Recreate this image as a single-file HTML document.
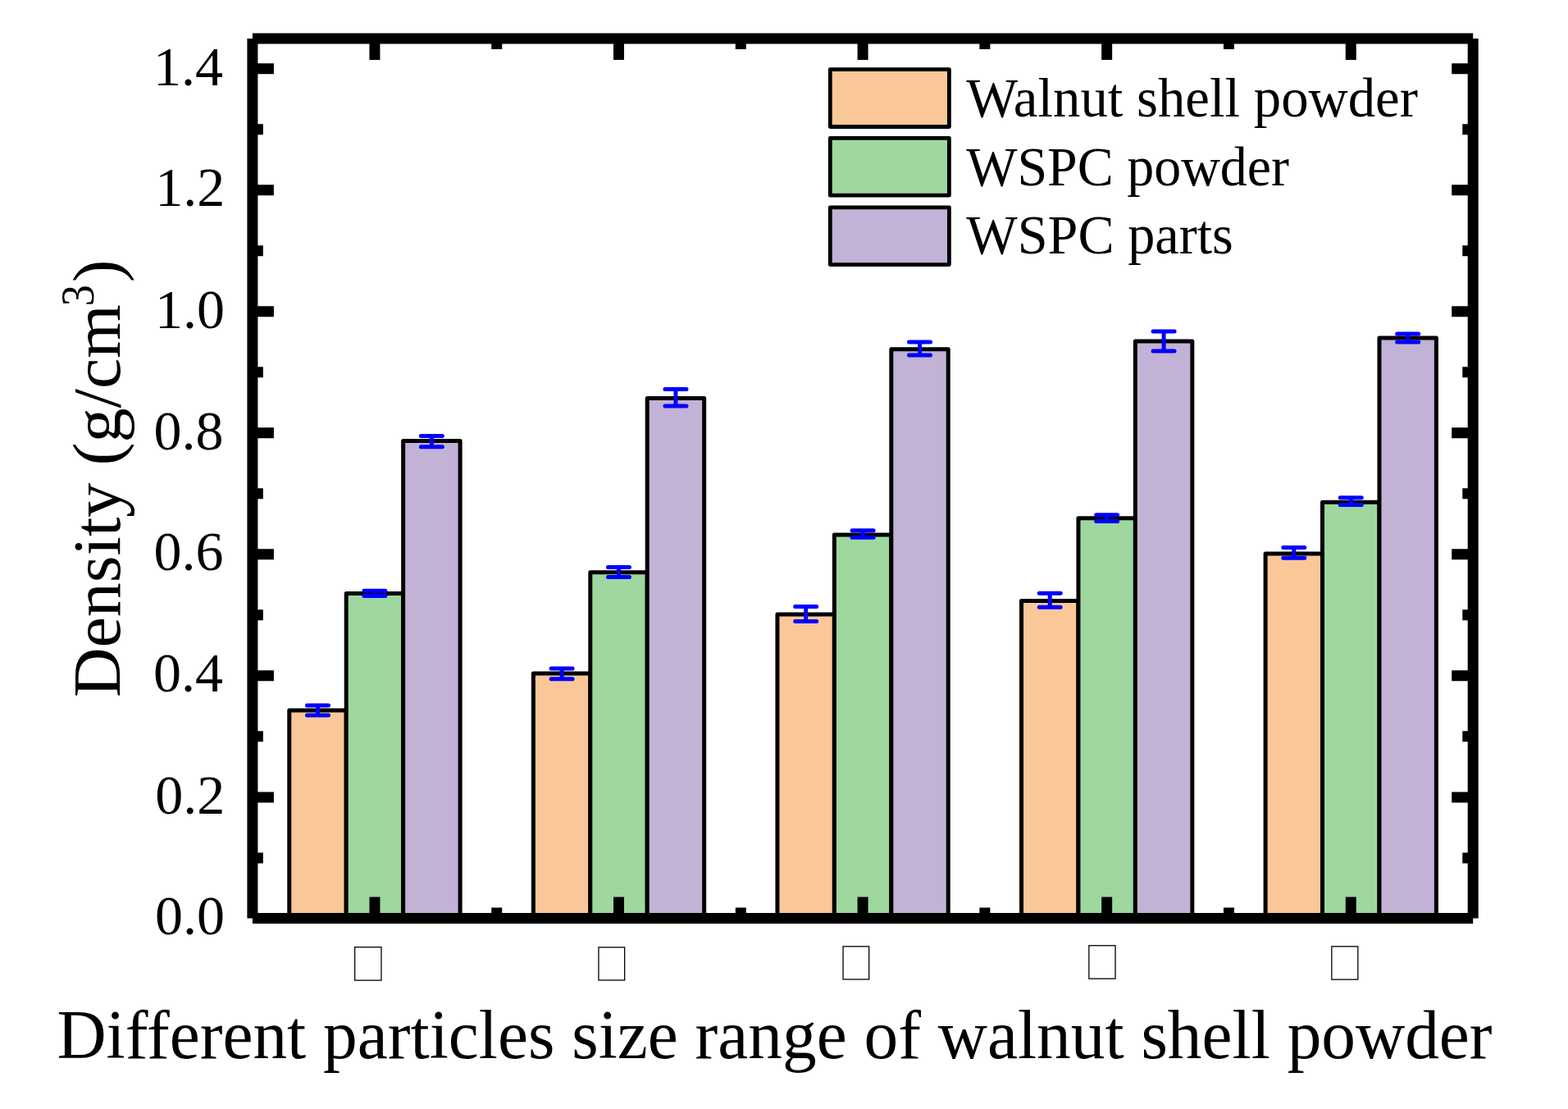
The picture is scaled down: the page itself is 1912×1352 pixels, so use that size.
<!DOCTYPE html><html><head><meta charset="utf-8"><title>Density chart</title><style>html,body{margin:0;padding:0;background:#fff}svg{display:block}text{font-family:"Liberation Serif","Times New Roman",serif;fill:#000}</style></head><body>
<svg width="1912" height="1352" viewBox="0 0 1912 1352">
<rect width="1912" height="1352" fill="#fff"/>
<g stroke="#000" stroke-width="5.0" stroke-linejoin="round">
<rect x="352.78" y="866.00" width="69.44" height="256.00" fill="#FAC898"/>
<rect x="422.21" y="723.50" width="69.44" height="398.50" fill="#9ED89E"/>
<rect x="491.65" y="537.60" width="69.44" height="584.40" fill="#C2B2D6"/>
<rect x="650.36" y="821.10" width="69.44" height="300.90" fill="#FAC898"/>
<rect x="719.79" y="697.80" width="69.44" height="424.20" fill="#9ED89E"/>
<rect x="789.23" y="485.40" width="69.44" height="636.60" fill="#C2B2D6"/>
<rect x="947.94" y="748.90" width="69.44" height="373.10" fill="#FAC898"/>
<rect x="1017.37" y="651.90" width="69.44" height="470.10" fill="#9ED89E"/>
<rect x="1086.81" y="425.70" width="69.44" height="696.30" fill="#C2B2D6"/>
<rect x="1245.52" y="732.50" width="69.44" height="389.50" fill="#FAC898"/>
<rect x="1314.95" y="631.80" width="69.44" height="490.20" fill="#9ED89E"/>
<rect x="1384.39" y="416.00" width="69.44" height="706.00" fill="#C2B2D6"/>
<rect x="1543.10" y="675.10" width="69.44" height="446.90" fill="#FAC898"/>
<rect x="1612.53" y="612.20" width="69.44" height="509.80" fill="#9ED89E"/>
<rect x="1681.97" y="412.00" width="69.44" height="710.00" fill="#C2B2D6"/>
</g>
<g stroke="#0000FF" stroke-width="5" stroke-linecap="round" fill="none">
<path d="M374.49 859.90H400.49M374.49 872.10H400.49M387.49 859.90V872.10"/>
<path d="M443.93 720.20H469.93M443.93 726.40H469.93M456.93 720.20V726.40"/>
<path d="M513.37 531.60H539.37M513.37 544.70H539.37M526.37 531.60V544.70"/>
<path d="M672.07 815.00H698.07M672.07 827.80H698.07M685.07 815.00V827.80"/>
<path d="M741.51 691.60H767.51M741.51 703.40H767.51M754.51 691.60V703.40"/>
<path d="M810.95 474.60H836.95M810.95 494.90H836.95M823.95 474.60V494.90"/>
<path d="M969.65 739.50H995.65M969.65 757.50H995.65M982.65 739.50V757.50"/>
<path d="M1039.09 646.80H1065.09M1039.09 655.20H1065.09M1052.09 646.80V655.20"/>
<path d="M1108.53 416.90H1134.53M1108.53 432.90H1134.53M1121.53 416.90V432.90"/>
<path d="M1267.23 723.30H1293.23M1267.23 740.20H1293.23M1280.23 723.30V740.20"/>
<path d="M1336.67 627.80H1362.67M1336.67 635.60H1362.67M1349.67 627.80V635.60"/>
<path d="M1406.11 404.00H1432.11M1406.11 428.06H1432.11M1419.11 404.00V428.06"/>
<path d="M1564.81 667.40H1590.81M1564.81 680.30H1590.81M1577.81 667.40V680.30"/>
<path d="M1634.25 606.70H1660.25M1634.25 615.40H1660.25M1647.25 606.70V615.40"/>
<path d="M1703.69 407.10H1729.69M1703.69 417.00H1729.69M1716.69 407.10V417.00"/>
</g>
<g stroke="#000" stroke-width="13.0" fill="none" stroke-linecap="butt">
<path d="M307.9 47.0H1796.2M307.9 1119.38H1796.2M307.9 47.0V1119.38M1796.2 47.0V1119.38"/>
<path d="M307.90 1045.89h12.9M1796.20 1045.89h-12.9M307.90 971.88h26.0M1796.20 971.88h-26.0M307.90 897.87h12.9M1796.20 897.87h-12.9M307.90 823.86h26.0M1796.20 823.86h-26.0M307.90 749.85h12.9M1796.20 749.85h-12.9M307.90 675.84h26.0M1796.20 675.84h-26.0M307.90 601.83h12.9M1796.20 601.83h-12.9M307.90 527.82h26.0M1796.20 527.82h-26.0M307.90 453.81h12.9M1796.20 453.81h-12.9M307.90 379.80h26.0M1796.20 379.80h-26.0M307.90 305.79h12.9M1796.20 305.79h-12.9M307.90 231.78h26.0M1796.20 231.78h-26.0M307.90 157.77h12.9M1796.20 157.77h-12.9M307.90 83.76h26.0M1796.20 83.76h-26.0M456.93 47.00v26.0M456.93 1119.38v-26.0M754.51 47.00v26.0M754.51 1119.38v-26.0M1052.09 47.00v26.0M1052.09 1119.38v-26.0M1349.67 47.00v26.0M1349.67 1119.38v-26.0M1647.25 47.00v26.0M1647.25 1119.38v-26.0M605.72 47.00v12.9M605.72 1119.38v-12.9M903.30 47.00v12.9M903.30 1119.38v-12.9M1200.88 47.00v12.9M1200.88 1119.38v-12.9M1498.46 47.00v12.9M1498.46 1119.38v-12.9"/>
</g>
<g font-size="68">
<text x="274.0" y="1139.0" text-anchor="end">0.0</text>
<text x="274.3" y="992.0" text-anchor="end">0.2</text>
<text x="271.9" y="842.9" text-anchor="end">0.4</text>
<text x="272.5" y="694.6" text-anchor="end">0.6</text>
<text x="272.5" y="547.7" text-anchor="end">0.8</text>
<text x="273.9" y="399.9" text-anchor="end">1.0</text>
<text x="274.3" y="250.9" text-anchor="end">1.2</text>
<text x="271.9" y="103.9" text-anchor="end">1.4</text>
</g>
<g fill="none" stroke="#000" stroke-width="1.3">
<rect x="432.65" y="1154.65" width="32.30" height="40.50"/>
<rect x="729.95" y="1154.85" width="31.70" height="40.10"/>
<rect x="1028.05" y="1153.85" width="31.60" height="40.10"/>
<rect x="1327.85" y="1152.75" width="32.20" height="40.40"/>
<rect x="1623.85" y="1153.85" width="32.00" height="40.30"/>
</g>
<text x="69.4" y="1289.8" font-size="84" textLength="1750.2" lengthAdjust="spacingAndGlyphs">Different particles size range of walnut shell powder</text>
<g transform="translate(145.8 850.3) rotate(-90)"><text x="0" y="0" font-size="83" textLength="479.0" lengthAdjust="spacingAndGlyphs">Density (g/cm</text><text x="477.1" y="-32.3" font-size="58" textLength="26" lengthAdjust="spacingAndGlyphs">3</text><text x="506.1" y="0" font-size="83">)</text></g>
<g stroke="#000" stroke-width="4.8" stroke-linejoin="round">
<rect x="1012.30" y="84.70" width="145.10" height="69.80" fill="#FAC898"/>
<rect x="1012.30" y="168.40" width="145.10" height="69.80" fill="#9ED89E"/>
<rect x="1012.30" y="252.80" width="145.10" height="69.80" fill="#C2B2D6"/>
</g>
<g font-size="68">
<text x="1178.2" y="142.3" textLength="550.8" lengthAdjust="spacingAndGlyphs">Walnut shell powder</text>
<text x="1178.2" y="225.5" textLength="393.8" lengthAdjust="spacingAndGlyphs">WSPC powder</text>
<text x="1178.2" y="308.7" textLength="325.7" lengthAdjust="spacingAndGlyphs">WSPC parts</text>
</g>
</svg></body></html>
